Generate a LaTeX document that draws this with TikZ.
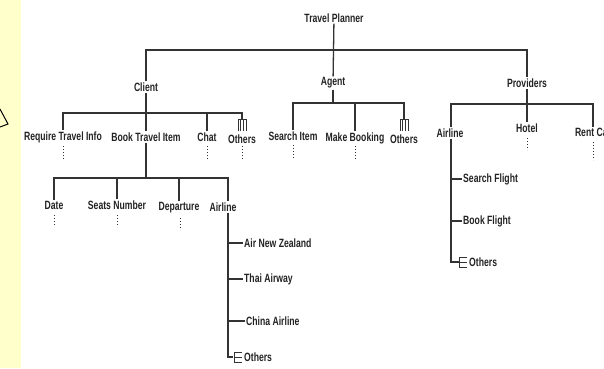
\documentclass[tikz,border=0pt]{standalone}
\usepackage{fontspec}
\newfontfamily\chartfont{Liberation Sans}[FakeStretch=0.72]
\definecolor{panelyellow}{HTML}{FFFFCC}
\definecolor{ink}{HTML}{222222}
\definecolor{wire}{HTML}{333333}
\begin{document}
\begin{tikzpicture}[x=1pt,y=-1pt,
  lbl/.style={font=\chartfont\bfseries\fontsize{12}{13}\selectfont, inner sep=1pt, text=ink},
  link/.style={draw=wire, line width=1.3pt},
  thin/.style={draw=wire, line width=0.9pt},
  dots/.style={draw=wire, line width=1pt, dash pattern=on 1pt off 2pt},
  % collapsed branch marker hanging below a bar
  foldmark/.pic={
    \draw[thin] (-4,12) -- (-4,0) -- (4,0) -- (4,12);
    \draw[thin] (-1.2,0) -- (-1.2,12) (1.2,0) -- (1.2,12);
  },
  % collapsed branch marker at the end of a list
  stackmark/.pic={
    \draw[thin] (0,-5) -- (0,5);
    \draw[thin] (0,-5) -- (8,-5) (0,0) -- (8,0) (0,5) -- (8,5);
  },
]
\useasboundingbox (0,0) rectangle (604,368);
\clip (0,0) rectangle (604,368);

% side panel and arrow tip
\fill[panelyellow] (0,0) rectangle (21,368);
\draw[black, line width=1pt, line join=miter] (0,109) -- (8,124) -- (0,127);

% top level
\node[lbl] (tp) at (334,18) {Travel Planner};
\node[lbl] (client) at (146,87) {Client};
\node[lbl] (agent) at (333,83) {Agent};
\node[lbl] (prov) at (527,83) {Providers};
\coordinate (topbar) at (0,50);
\draw[link] (tp) -- (agent);
\draw[link] (client) -- (client |- topbar) -- (prov |- topbar) -- (prov);

% Client branch
\coordinate (cbar) at (0,113);
\node[lbl] (req) at (63,137) {Require Travel Info};
\node[lbl] (book) at (146,137) {Book Travel Item};
\node[lbl] (chat) at (207,137) {Chat};
\node[lbl] (cothers) at (242,139) {Others};
\draw[link] (client) -- (book);
\draw[link] (req) -- (req |- cbar) -- (cothers |- cbar) -- ++(0,6) coordinate (cfold);
\draw[link] (chat) -- (chat |- cbar);
\pic at (cfold) {foldmark};
\draw[dots] (63,146) -- (63,159);
\draw[dots] (207,146) -- (207,159);
\draw[dots] (242,146) -- (242,159);

% Book Travel Item branch
\coordinate (bbar) at (0,178);
\coordinate (cairx) at (228,0);
\node[lbl] (date) at (54,205) {Date};
\node[lbl] (seats) at (117,205) {Seats Number};
\node[lbl] (dep) at (179,208) {Departure};
\node[lbl] (cair) at (223,207) {Airline};
\draw[link] (book) -- (book |- bbar);
\draw[link] (date) -- (date |- bbar) -- (cairx |- bbar) -- (cairx |- cair.north);
\draw[link] (seats) -- (seats |- bbar);
\draw[link] (dep) -- (dep |- bbar);
\draw[dots] (54,215) -- (54,226);
\draw[dots] (117,215) -- (117,227);
\draw[dots] (180,218) -- (180,230);

% airline list under Book Travel Item
\node[lbl, anchor=west] (anz) at (243,243) {Air New Zealand};
\node[lbl, anchor=west] (thai) at (243,279) {Thai Airway};
\node[lbl, anchor=west] (china) at (245,321) {China Airline};
\node[lbl, anchor=west] (cao) at (243,357) {Others};
\draw[link] (cairx |- cair.south) -- (cairx |- cao) -- (233,357);
\draw[link] (anz.west) -- (anz.west -| cairx);
\draw[link] (thai.west) -- (thai.west -| cairx);
\draw[link] (china.west) -- (china.west -| cairx);
\pic at (234,357) {stackmark};

% Agent branch
\coordinate (abar) at (0,103);
\node[lbl] (sitem) at (293,136) {Search Item};
\node[lbl] (mbook) at (355,138) {Make Booking};
\node[lbl] (aothers) at (404,139) {Others};
\draw[link] (agent) -- (agent |- abar);
\draw[link] (sitem) -- (sitem |- abar) -- (aothers |- abar) -- ++(0,16) coordinate (afold);
\draw[link] (mbook) -- (mbook |- abar);
\pic at (afold) {foldmark};
\draw[dots] (293,145) -- (293,158);
\draw[dots] (355,146) -- (355,159);

% Providers branch
\coordinate (pbar) at (0,104);
\coordinate (pairx) at (451,0);
\node[lbl] (pair) at (450,133) {Airline};
\node[lbl] (hotel) at (527,128) {Hotel};
\node[lbl] (rent) at (593,132) {Rent Car};
\draw[link] (prov) -- (hotel);
\draw[link] (pairx |- pair.north) -- (pairx |- pbar) -- (rent |- pbar) -- (rent);
\draw[dots] (527,138) -- (527,150);
\draw[dots] (593,142) -- (593,160);

% airline list under Providers
\node[lbl, anchor=west] (sflight) at (462,179) {Search Flight};
\node[lbl, anchor=west] (bflight) at (462,221) {Book Flight};
\node[lbl, anchor=west] (pao) at (468,262) {Others};
\draw[link] (pairx |- pair.south) -- (pairx |- pao) -- (459,262);
\draw[link] (sflight.west) -- (sflight.west -| pairx);
\draw[link] (bflight.west) -- (bflight.west -| pairx);
\pic at (459,262) {stackmark};
\end{tikzpicture}
\end{document}
